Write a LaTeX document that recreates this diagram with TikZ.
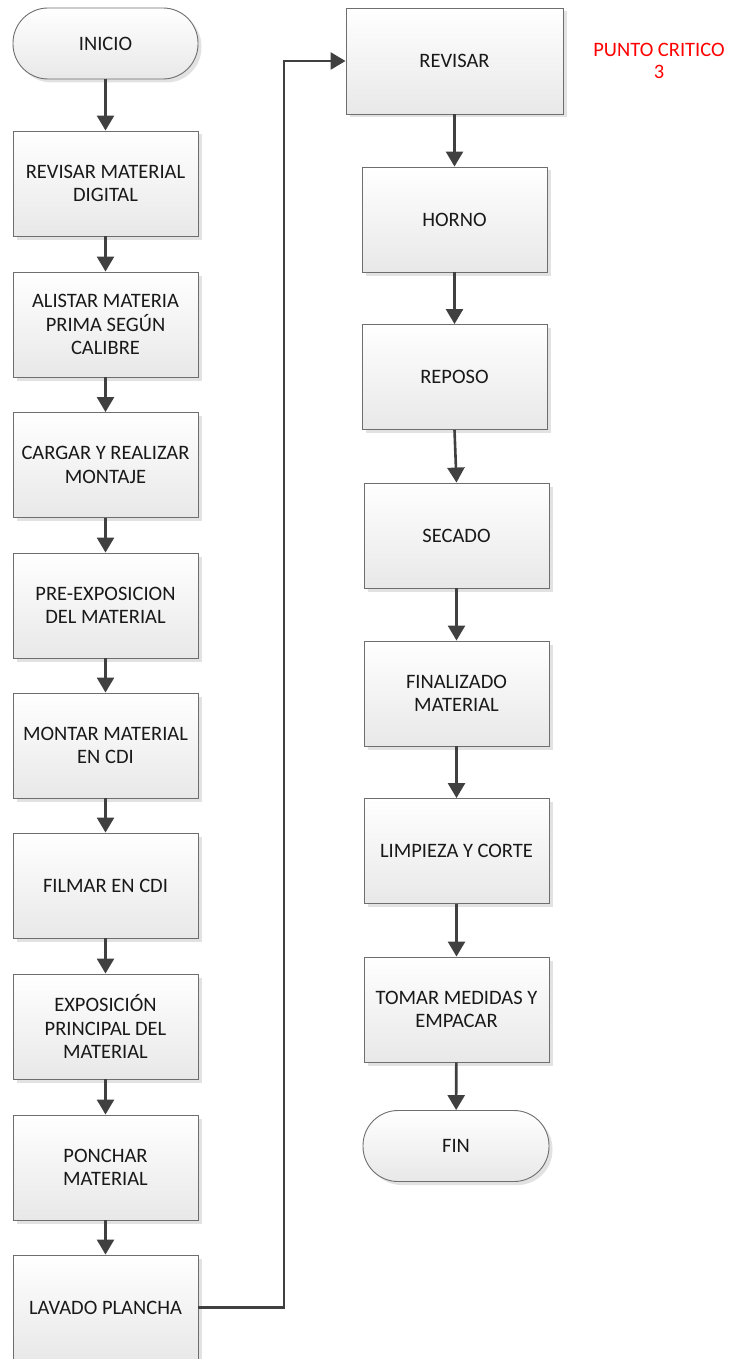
\documentclass[tikz,border=0pt]{standalone}
\usepackage{fontspec}
\setmainfont{Carlito}
\usetikzlibrary{arrows.meta,shadows}

\definecolor{borde}{HTML}{6E6E6E}
\definecolor{flechagris}{HTML}{404040}
\definecolor{sombra}{HTML}{E2E2E2}

\tikzset{
    paso/.style={draw=borde, line width=0.9pt, top color=white, bottom color=black!9,
        minimum width=185pt, minimum height=105pt, align=center, inner sep=2pt,
        font=\fontsize{20.5}{23.5}\selectfont, text=black!90,
        drop shadow={shadow xshift=3.5pt, shadow yshift=-3.5pt, fill=sombra, opacity=1}},
    terminal/.style={paso, rounded corners=35pt, minimum height=71pt},
    flecha/.style={-{Triangle[length=15pt,width=17pt]}, draw=flechagris, line width=2.6pt}
}

\begin{document}
\begin{tikzpicture}[x=1pt,y=-1pt]
    \useasboundingbox (0,0) rectangle (730,1359);

    % Columna izquierda
    \node[terminal] (inicio) at (105.5,43.5) {INICIO};
    \node[paso] (revdigital) at (105.5,183.5) {REVISAR MATERIAL\\DIGITAL};
    \node[paso] (alistar) at (105.5,324.5) {ALISTAR MATERIA\\PRIMA SEGÚN\\CALIBRE};
    \node[paso] (cargar) at (105.5,465) {CARGAR Y REALIZAR\\MONTAJE};
    \node[paso] (preexp) at (105.5,605.5) {PRE-EXPOSICION\\DEL MATERIAL};
    \node[paso] (montar) at (105.5,745.5) {MONTAR MATERIAL\\EN CDI};
    \node[paso] (filmar) at (105.5,885.5) {FILMAR EN CDI};
    \node[paso] (exposicion) at (105.5,1026.5) {EXPOSICIÓN\\PRINCIPAL DEL\\MATERIAL};
    \node[paso] (ponchar) at (105.5,1167.5) {PONCHAR\\MATERIAL};
    \node[paso] (lavado) at (105.5,1307.5) {LAVADO PLANCHA};

    % Columna derecha
    \node[paso, minimum width=217pt, minimum height=106pt] (revisar) at (454.5,61) {REVISAR};
    \node[paso] (horno) at (454.5,219.5) {HORNO};
    \node[paso] (reposo) at (454.5,377) {REPOSO};
    \node[paso] (secado) at (456.5,535.5) {SECADO};
    \node[paso] (finalizado) at (456.5,693.5) {FINALIZADO\\MATERIAL};
    \node[paso] (limpieza) at (456.5,851) {LIMPIEZA Y CORTE};
    \node[paso] (tomar) at (456.5,1009.5) {TOMAR MEDIDAS Y\\EMPACAR};
    \node[terminal, minimum width=186pt] (fin) at (456,1146) {FIN};

    % Punto critico
    \node[red, align=center, font=\fontsize{20.5}{22}\selectfont] (critico) at (659,61) {PUNTO CRITICO\\3};

    % Flechas
    \draw[flecha] (inicio) -- (revdigital);
    \draw[flecha] (revdigital) -- (alistar);
    \draw[flecha] (alistar) -- (cargar);
    \draw[flecha] (cargar) -- (preexp);
    \draw[flecha] (preexp) -- (montar);
    \draw[flecha] (montar) -- (filmar);
    \draw[flecha] (filmar) -- (exposicion);
    \draw[flecha] (exposicion) -- (ponchar);
    \draw[flecha] (ponchar) -- (lavado);

    % Salto a la segunda columna
    \coordinate (codo) at (284,0);
    \draw[flecha] (lavado.east) -- (lavado.east -| codo) |- (revisar.west);

    \draw[flecha] (revisar) -- (horno);
    \draw[flecha] (horno) -- (reposo);
    \draw[flecha] (reposo.south) -- (secado.north);
    \draw[flecha] (secado) -- (finalizado);
    \draw[flecha] (finalizado) -- (limpieza);
    \draw[flecha] (limpieza) -- (tomar);
    \draw[flecha] (tomar) -- (fin);
\end{tikzpicture}
\end{document}
